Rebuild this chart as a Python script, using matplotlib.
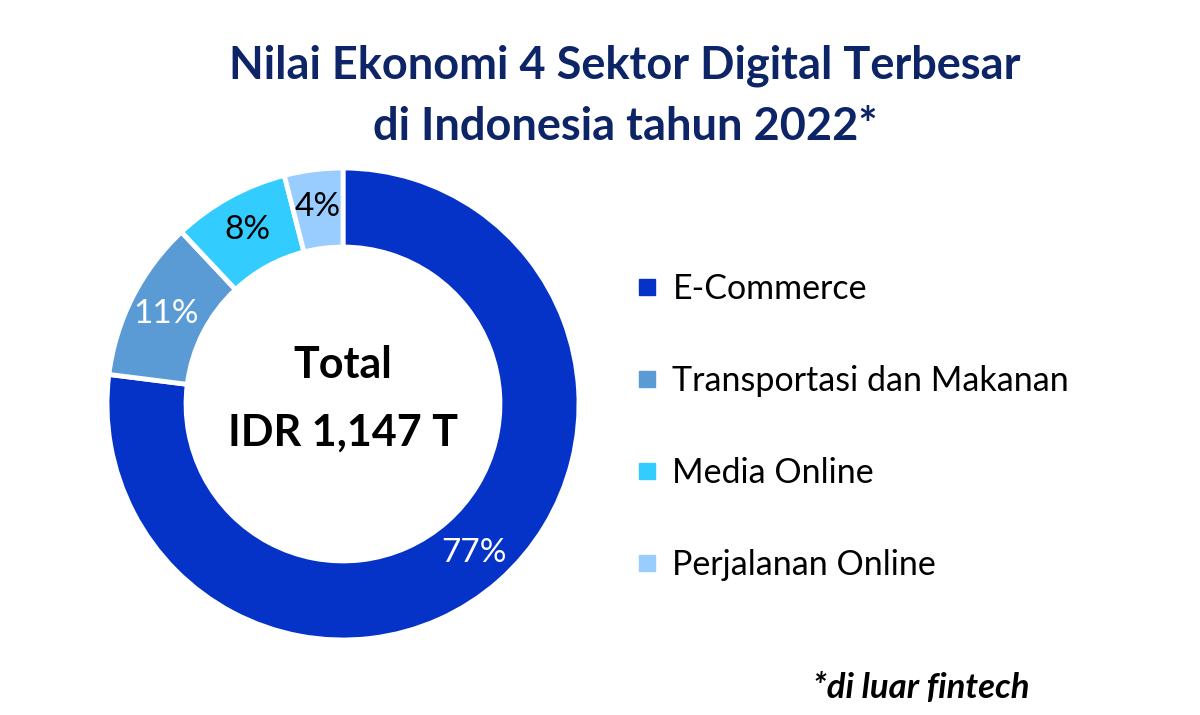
import matplotlib
matplotlib.use("Agg")
import matplotlib.pyplot as plt
from matplotlib.lines import Line2D

plt.rcParams['font.family'] = ['Lato', 'DejaVu Sans']

# data
sectors = ["E-Commerce", "Transportasi dan Makanan", "Media Online", "Perjalanan Online"]
shares = [77, 11, 8, 4]
colors = ["#0533C8", "#5B9BD5", "#33CCFF", "#99CCFF"]
label_colors = ["white", "white", "black", "black"]
title = "Nilai Ekonomi 4 Sektor Digital Terbesar\ndi Indonesia tahun 2022*"
center_lines = ["Total", "IDR 1,147 T"]
footnote = "*di luar fintech"

fig = plt.figure(figsize=(12, 7.15), dpi=100)
fig.patch.set_facecolor("white")

# donut: center ~ (343, 404) px, radius ~236 px
ax = fig.add_axes([107 / 1200, (715 - 404 - 236) / 715, 472 / 1200, 472 / 715])
wedges, texts, autotexts = ax.pie(
    shares, colors=colors, startangle=90, counterclock=False, radius=1.0,
    autopct="%d%%", pctdistance=0.84,
    wedgeprops=dict(width=0.335, edgecolor="white", linewidth=3.5),
)
for t, c in zip(autotexts, label_colors):
    t.set_color(c)
    t.set_fontsize(24)
ax.set_xlim(-1, 1)
ax.set_ylim(-1, 1)
ax.set_aspect("equal")
ax.axis("off")

ax.text(0, 0.165, center_lines[0], ha="center", va="center", fontsize=31,
        fontweight="bold", color="black")
ax.text(0, -0.12, center_lines[1], ha="center", va="center", fontsize=31,
        fontweight="bold", color="black")

fig.text(0.521, 0.865, title, ha="center", va="center", fontsize=32.5,
         fontweight="bold", color="#0D2566", linespacing=1.55)

handles = [Line2D([0], [0], marker="s", linestyle="none", markersize=11,
                  markerfacecolor=c, markeredgecolor=c) for c in colors]
leg = fig.legend(handles, sectors, loc="center left",
                 bbox_to_anchor=(0.515, 1 - 427 / 715), frameon=False,
                 fontsize=24.5, labelspacing=1.76, handlelength=0.7,
                 handletextpad=0.4, borderpad=0)

fig.text(0.858, 1 - 688 / 715, footnote, ha="right", va="center",
         fontsize=25, fontweight="bold", fontstyle="italic", color="black")

fig.savefig("out.png", dpi=100, facecolor="white")
